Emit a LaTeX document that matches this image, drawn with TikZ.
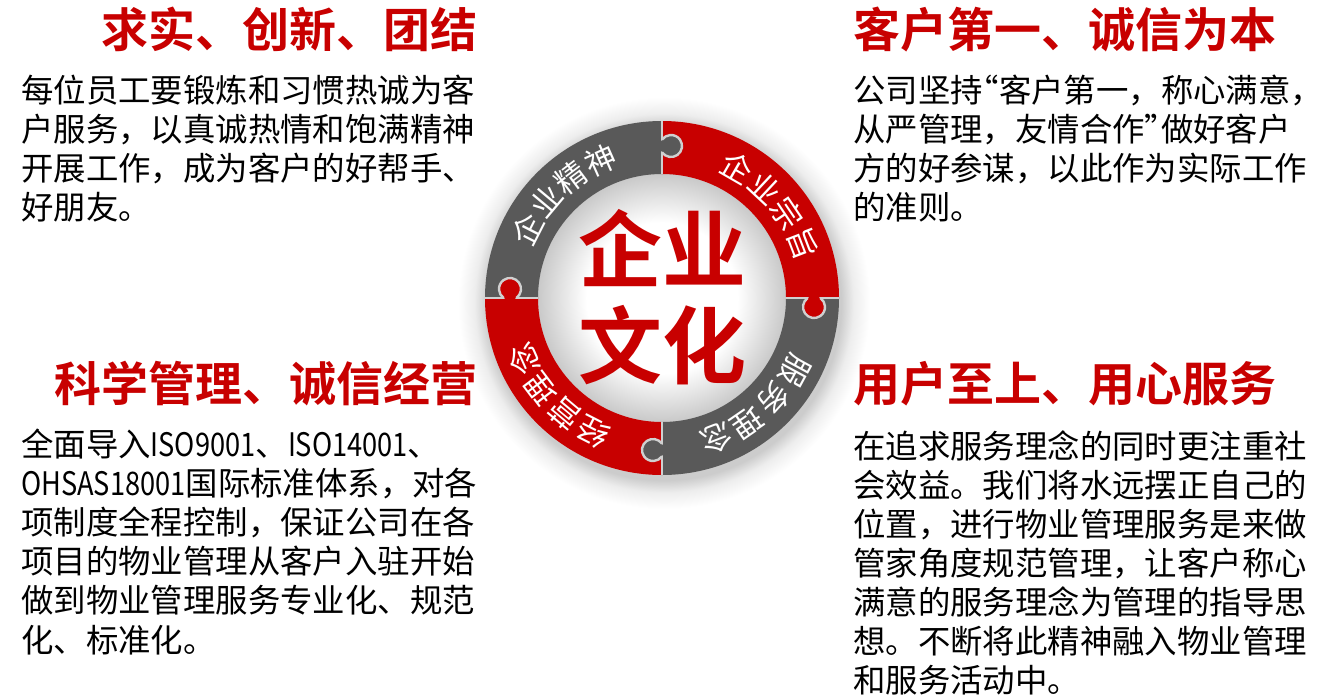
\documentclass[tikz,border=0pt]{standalone}
\usepackage{fontspec}
\usepackage{xcolor}
\usepackage{tikz}
\newfontfamily\cjk{Noto Sans CJK SC}[BoldFont={Noto Sans CJK SC Bold}]
\newfontfamily\cjknarrow{Noto Sans CJK SC}[FakeStretch=0.84]
\newcommand\latn[1]{{\cjknarrow #1}}
\newcommand\openq{\makebox[0.5em][r]{“}}
\newcommand\closeq{\makebox[0.5em][l]{”}}
\newcommand\tailcomma{\makebox[0.5em][l]{，}}
\definecolor{cultRed}{RGB}{200,0,0}
\definecolor{cultGray}{RGB}{89,89,89}
\definecolor{seamGray}{RGB}{208,208,208}
\pgfdeclareradialshading{ringShadow}{\pgfpoint{0bp}{0bp}}{color(0bp)=(black!20); color(21.5bp)=(black!20); color(23bp)=(black!7); color(25bp)=(white); color(50bp)=(white)}
\pgfdeclareradialshading{innerGlow}{\pgfpoint{0bp}{0bp}}{color(0bp)=(white); color(15bp)=(white); color(25bp)=(black!22); color(50bp)=(black!22)}
\tikzset{
  heading/.style={text=cultRed, inner sep=0pt, font=\cjk\bfseries\fontsize{47}{50}\selectfont},
  bodytxt/.style={text=black, inner sep=0pt, anchor=base west, font=\cjk\fontsize{32.4}{39}\selectfont},
  ringtxt/.style={text=white, inner sep=0pt, font=\cjk\fontsize{31}{32}\selectfont},
  hubtxt/.style={text=cultRed, inner sep=0pt, font=\cjk\bfseries\fontsize{84}{90}\selectfont},
  seam/.style={seamGray, line width=2.4pt}
}

\begin{document}
\begin{tikzpicture}[x=1pt,y=-1pt]
\fill[white] (0,0) rectangle (1321,696);
\useasboundingbox (0,0) rectangle (1321,696);

% puzzle ring
\begin{scope}[shift={(662,298)},yscale=-1]
\shade[shading=ringShadow] (2,-5) circle[radius=206];
\shade[shading=innerGlow] (0,0) circle[radius=126];
\foreach \a/\c in {0/cultRed,90/cultGray,180/cultRed,270/cultGray}
  \fill[\c] (\a:177) arc[start angle=\a,end angle=\a+90,radius=177]
    -- ({\a+90}:124) arc[start angle=\a+90,end angle=\a,radius=124] -- cycle;
\foreach \a/\c in {0/cultRed,90/cultGray,180/cultRed,270/cultGray}{
  \begin{scope}[rotate=\a-90]
    \draw[seam] (0,124) -- (0,177);
    \fill[\c] (9,152) circle[radius=11];
    \draw[seam] (0,145.7) arc[start angle=-145,end angle=145,radius=11];
  \end{scope}
}
\foreach \t/\a [count=\i] in {企/153,业/140,精/127,神/114,企/60,业/47,宗/34,旨/21,服/-28.5,务/-42,理/-55.5,念/-69,经/243,营/230,理/217,念/204}
  \node[ringtxt,rotate=\a-90] (rw-\i) at (\a:151) {\t};
\end{scope}

\node[hubtxt] (hub1) at (662,248) {企业};
\node[hubtxt] (hub2) at (662,345) {文化};

% headings
\node[heading,anchor=base east] (h-tl) at (478,47) {求实、创新、团结};
\node[heading,anchor=base west] (h-tr) at (853,47) {客户第一、诚信为本};
\node[heading,anchor=base east] (h-bl) at (478,401) {科学管理、诚信经营};
\node[heading,anchor=base west] (h-br) at (853,401) {用户至上、用心服务};

% texts
\foreach \l [count=\i] in {每位员工要锻炼和习惯热诚为客,户服务，以真诚热情和饱满精神,开展工作，成为客户的好帮手、,好朋友。}
  \node[bodytxt] (tl-\i) at (21,{63+39*\i}) {\l};
\foreach \l [count=\i] in {公司坚持\openq 客户第一，称心满意\tailcomma,从严管理，友情合作\closeq 做好客户,方的好参谋，以此作为实际工作,的准则。}
  \node[bodytxt] (tr-\i) at (853,{63+39*\i}) {\l};
\foreach \l [count=\i] in {全面导入\latn{ISO9001}、\latn{ISO14001}、,\latn{OHSAS18001}国际标准体系，对各,项制度全程控制，保证公司在各,项目的物业管理从客户入驻开始,做到物业管理服务专业化、规范,化、标准化。}
  \node[bodytxt] (bl-\i) at (21,{416.8+39.2*\i}) {\l};
\foreach \l [count=\i] in {在追求服务理念的同时更注重社,会效益。我们将水远摆正自己的,位置，进行物业管理服务是来做,管家角度规范管理，让客户称心,满意的服务理念为管理的指导思,想。不断将此精神融入物业管理,和服务活动中。}
  \node[bodytxt] (br-\i) at (853,{419+39*\i}) {\l};
\end{tikzpicture}
\end{document}
